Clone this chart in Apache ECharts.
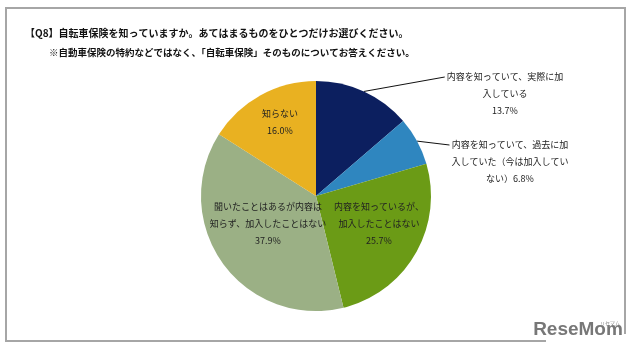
<!DOCTYPE html>
<html>
<head>
<meta charset="utf-8">
<script src="https://cdn.jsdelivr.net/npm/echarts@6/dist/echarts.min.js"></script>
<style>html,body{margin:0;padding:0;background:#fff;}#c{width:640px;height:355px;}</style>
</head>
<body>
<div id="c"></div>
<script>
// ---- data ----
const titleLines = [
  '【Q8】自転車保険を知っていますか。あてはまるものをひとつだけお選びください。',
  '※自動車保険の特約などではなく、「自転車保険」そのものについてお答えください。'
];
const categories = [
  '内容を知っていて、実際に加入している',
  '内容を知っていて、過去に加入していた（今は加入していない）',
  '内容を知っているが、加入したことはない',
  '聞いたことはあるが内容は知らず、加入したことはない',
  '知らない'
];
const labelLines = [
  ['内容を知っていて、実際に加', '入している'],
  ['内容を知っていて、過去に加', '入していた（今は加入してい', 'ない）'],
  ['内容を知っているが、', '加入したことはない'],
  ['聞いたことはあるが内容は', '知らず、加入したことはない'],
  ['知らない']
];
const values = [13.7, 6.8, 25.7, 37.9, 16.0];
const colors = ['#0c1f5f', '#2f86bf', '#6b9b16', '#9bb085', '#e9b121'];
// label centres (layout, not data)
const labelPos = [[505, 94], [510, 162], [379, 224], [268, 224], [280, 122]];
const outside = [true, true, false, false, false];

function labelText(i) {
  const ls = labelLines[i].slice();
  const pct = values[i].toFixed(1) + '%';
  if (i === 1) { ls[ls.length - 1] = ls[ls.length - 1] + pct; }
  else ls.push(pct);
  return ls.join('\n');
}

const chart = echarts.init(document.getElementById('c'), null, {renderer: 'canvas'});
const FONT = '"Noto Sans CJK JP", "Noto Sans", sans-serif';
const LH = 17;

chart.setOption({
  backgroundColor: '#ffffff',
  animation: false,
  graphic: [
    {type: 'rect', shape: {x: 6, y: 8, width: 619, height: 333}, style: {fill: 'none', stroke: '#a6a6a6', lineWidth: 2}, z: 0},
    {type: 'text', x: 25, y: 33, style: {text: titleLines[0], font: 'bold 10px ' + FONT, fill: '#111', verticalAlign: 'middle'}},
    {type: 'text', x: 49, y: 52, style: {text: titleLines[1], font: 'bold 9.5px ' + FONT, fill: '#111', verticalAlign: 'middle'}},
    {type: 'rect', shape: {x: 546, y: 334, width: 94, height: 21}, style: {fill: '#ffffff'}, z: 5},
    {type: 'text', x: 578, y: 339, style: {text: 'ReseMom', font: 'bold 19px "Liberation Sans", Arial, sans-serif', fill: '#777', align: 'center', verticalAlign: 'bottom'}, z: 6},
    {type: 'text', x: 610, y: 323, style: {text: 'リセマム', font: '5px ' + FONT, fill: '#888', align: 'center', verticalAlign: 'middle'}, z: 6}
  ],
  series: [{
    type: 'pie',
    center: [316, 196],
    radius: 115,
    startAngle: 90,
    clockwise: true,
    avoidLabelOverlap: false,
    itemStyle: {borderWidth: 0},
    label: {
      show: true,
      fontFamily: FONT,
      fontSize: 9,
      lineHeight: LH,
      color: '#222',
      align: 'center',
      formatter: p => labelText(p.dataIndex)
    },
    labelLine: {show: true, lineStyle: {color: '#111', width: 1}},
    data: values.map((v, i) => ({
      name: categories[i],
      value: v,
      itemStyle: {color: colors[i]},
      label: {position: outside[i] ? 'outside' : 'inside'},
      labelLine: {show: outside[i]}
    })),
    labelLayout: function (params) {
      const i = params.dataIndex;
      const pos = labelPos[i];
      const res = {x: pos[0], y: pos[1], align: 'center', verticalAlign: 'middle'};
      if (outside[i] && params.labelLinePoints) {
        const w = params.labelRect.width, h = params.labelRect.height;
        const start = params.labelLinePoints[0];
        const end = [pos[0] - w / 2 - 2, pos[1] - h / 2 + LH / 2];
        res.labelLinePoints = [start, end, end];
      }
      return res;
    }
  }]
});
</script>
</body>
</html>
